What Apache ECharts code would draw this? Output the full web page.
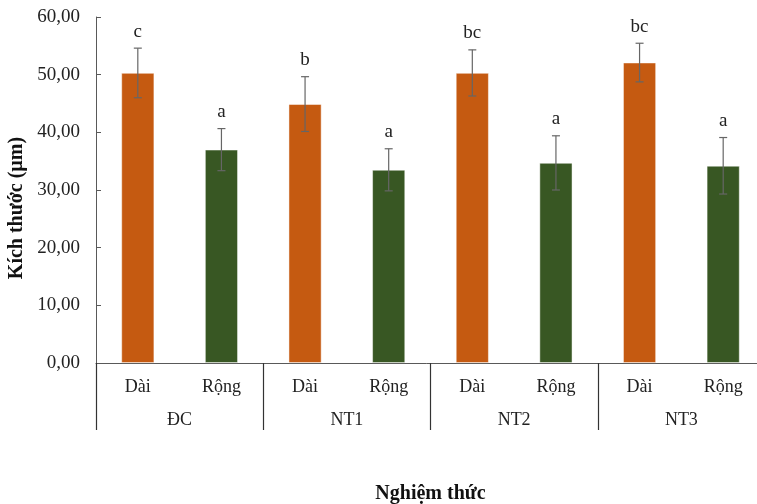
<!DOCTYPE html>
<html>
<head>
<meta charset="utf-8">
<script src="https://cdn.jsdelivr.net/npm/echarts@6/dist/echarts.min.js"></script>
<style>
  html, body { margin: 0; padding: 0; background: #fff; }
  #chart { width: 757px; height: 504px; }
</style>
</head>
<body>
<div id="chart"></div>
<script>
// Treatment groups and the two measured dimensions in each
const groups = ['ĐC', 'NT1', 'NT2', 'NT3'];
const dims = ['Dài', 'Rộng'];

// Mean size (µm), standard deviation and significance letters, per bar
const means = [50.3, 37.0, 44.9, 33.5, 50.3, 34.7, 52.1, 34.2];
const errors = [4.3, 3.65, 4.75, 3.65, 4.0, 4.7, 3.35, 4.9];
const letters = ['c', 'a', 'b', 'a', 'bc', 'a', 'bc', 'a'];

// Y axis ticks
const yMin = 0, yMax = 60, yStep = 10;

const barColors = { 'Dài': '#C55A11', 'Rộng': '#385723' };
const font = 'Liberation Serif, Times New Roman, serif';
const axisGray = '#595959';

const cats = [];
groups.forEach(() => dims.forEach(d => cats.push(d)));

const barData = means.map((v, i) => ({
  value: v,
  itemStyle: { color: barColors[cats[i]] }
}));
const errData = means.map((v, i) => [i, v, errors[i], letters[i]]);

const chart = echarts.init(document.getElementById('chart'), null, { renderer: 'canvas' });
chart.setOption({
  animation: false,
  grid: { left: 96, top: 17, width: 669, height: 346, outerBoundsMode: 'none', containLabel: false },
  xAxis: [
    {
      type: 'category',
      data: cats,
      position: 'bottom',
      axisLine: { show: true, lineStyle: { color: axisGray, width: 1 } },
      axisTick: { show: false },
      axisLabel: { color: '#222', fontFamily: font, fontSize: 18, margin: 15, interval: 0 }
    },
    {
      type: 'category',
      data: groups,
      position: 'bottom',
      axisLine: { show: false },
      axisTick: { show: true, length: 67, lineStyle: { color: '#333', width: 1.2 } },
      axisLabel: { color: '#222', fontFamily: font, fontSize: 18, margin: 48, interval: 0 },
      name: 'Nghiệm thức',
      nameLocation: 'middle',
      nameGap: 121,
      nameTextStyle: { color: '#111', fontFamily: font, fontSize: 20, fontWeight: 'bold' }
    }
  ],
  yAxis: {
    type: 'value',
    min: yMin, max: yMax, interval: yStep,
    axisLine: { show: true, lineStyle: { color: axisGray, width: 1 } },
    axisTick: { show: true, inside: true, length: 5, lineStyle: { color: axisGray } },
    splitLine: { show: false },
    axisLabel: {
      color: '#222', fontFamily: font, fontSize: 19, margin: 16,
      formatter: v => v.toFixed(2).replace('.', ',')
    },
    name: 'Kích thước (µm)',
    nameLocation: 'middle',
    nameRotate: 90,
    nameGap: 68,
    nameTextStyle: { color: '#111', fontFamily: font, fontSize: 20, fontWeight: 'bold', padding: [0, 36, 0, 0] }
  },
  series: [
    {
      type: 'bar',
      xAxisIndex: 0,
      data: barData,
      barWidth: 33,
      itemStyle: { borderColor: 'rgba(255,255,255,0.6)', borderWidth: 0.8 }
    },
    {
      type: 'custom',
      xAxisIndex: 0,
      data: errData,
      z: 10,
      renderItem: function (params, api) {
        const x = api.value(0);
        const v = api.value(1);
        const e = api.value(2);
        const top = api.coord([x, v + e]);
        const bot = api.coord([x, v - e]);
        const cap = 4;
        const ls = { stroke: '#666', lineWidth: 1.2 };
        return {
          type: 'group',
          children: [
            { type: 'line', shape: { x1: top[0], y1: top[1], x2: bot[0], y2: bot[1] }, style: ls },
            { type: 'line', shape: { x1: top[0] - cap, y1: top[1], x2: top[0] + cap, y2: top[1] }, style: ls },
            { type: 'line', shape: { x1: bot[0] - cap, y1: bot[1], x2: bot[0] + cap, y2: bot[1] }, style: ls },
            {
              type: 'text',
              style: {
                text: letters[params.dataIndex],
                x: top[0], y: top[1] - 7,
                align: 'center', verticalAlign: 'bottom',
                font: '19px ' + font,
                fill: '#222'
              }
            }
          ]
        };
      }
    }
  ]
});
</script>
</body>
</html>
